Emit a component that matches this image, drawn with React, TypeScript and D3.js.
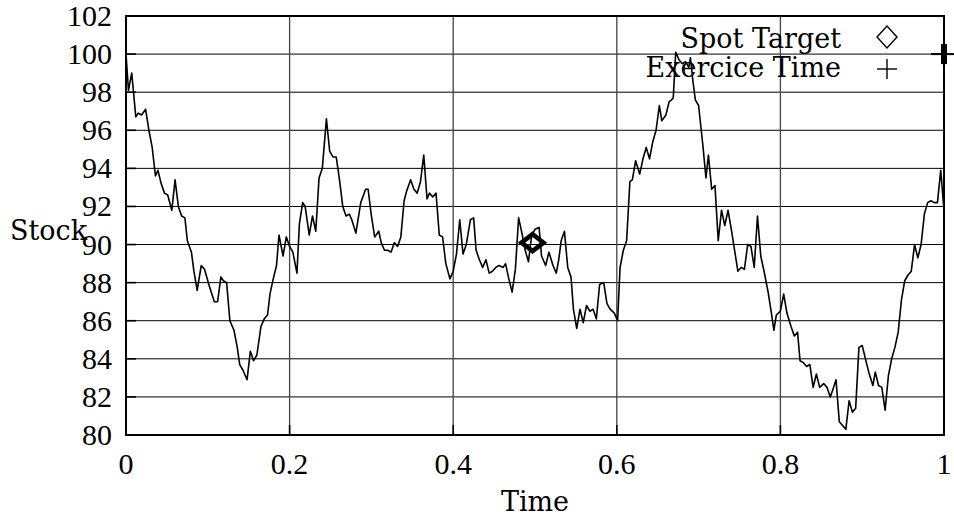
import React, { useEffect, useRef } from 'react';
import * as d3 from 'd3';

// simulated stock path
const times = [
  0.000, 0.003, 0.007, 0.012, 0.015, 0.019, 0.024, 0.028, 0.032, 0.036, 0.039, 0.043, 0.047, 0.051, 0.056,
  0.060, 0.064, 0.068, 0.072, 0.075, 0.080, 0.083, 0.087, 0.092, 0.096, 0.102, 0.108, 0.112, 0.116, 0.119,
  0.123, 0.127, 0.132, 0.136, 0.139, 0.143, 0.148, 0.152, 0.156, 0.160, 0.165, 0.169, 0.173, 0.176, 0.180,
  0.184, 0.187, 0.192, 0.196, 0.200, 0.204, 0.209, 0.212, 0.216, 0.219, 0.224, 0.228, 0.232, 0.236, 0.240,
  0.245, 0.249, 0.253, 0.257, 0.261, 0.265, 0.269, 0.273, 0.276, 0.281, 0.287, 0.293, 0.296, 0.300, 0.304,
  0.309, 0.312, 0.316, 0.320, 0.324, 0.328, 0.332, 0.336, 0.340, 0.343, 0.348, 0.352, 0.356, 0.360, 0.364,
  0.368, 0.371, 0.375, 0.379, 0.383, 0.387, 0.391, 0.396, 0.400, 0.404, 0.408, 0.412, 0.416, 0.421, 0.425,
  0.428, 0.432, 0.436, 0.440, 0.444, 0.448, 0.452, 0.456, 0.461, 0.464, 0.468, 0.472, 0.476, 0.480, 0.484,
  0.488, 0.492, 0.496, 0.500, 0.505, 0.508, 0.513, 0.517, 0.522, 0.526, 0.529, 0.532, 0.536, 0.540, 0.544,
  0.547, 0.551, 0.555, 0.559, 0.563, 0.567, 0.571, 0.575, 0.579, 0.584, 0.588, 0.592, 0.597, 0.601, 0.604,
  0.608, 0.612, 0.616, 0.619, 0.623, 0.628, 0.632, 0.636, 0.640, 0.644, 0.648, 0.652, 0.655, 0.660, 0.664,
  0.667, 0.669, 0.672, 0.676, 0.680, 0.684, 0.688, 0.690, 0.693, 0.696, 0.700, 0.705, 0.709, 0.712, 0.716,
  0.720, 0.724, 0.728, 0.732, 0.736, 0.740, 0.744, 0.748, 0.752, 0.756, 0.760, 0.764, 0.768, 0.772, 0.776,
  0.780, 0.785, 0.789, 0.792, 0.795, 0.800, 0.804, 0.808, 0.813, 0.817, 0.821, 0.824, 0.828, 0.832, 0.836,
  0.840, 0.844, 0.848, 0.853, 0.857, 0.861, 0.865, 0.868, 0.872, 0.876, 0.880, 0.884, 0.888, 0.892, 0.896,
  0.900, 0.904, 0.908, 0.913, 0.916, 0.920, 0.924, 0.928, 0.932, 0.936, 0.940, 0.944, 0.948, 0.952, 0.956,
  0.960, 0.964, 0.968, 0.972, 0.976, 0.980, 0.984, 0.988, 0.992, 0.996, 1.000,
];

const stock = [
  100.0, 98.1, 99.0, 96.7, 96.9, 96.8, 97.1, 96.0, 95.1, 93.6, 93.9, 93.2, 92.7, 92.6, 91.8,
  93.4, 92.0, 91.5, 91.4, 90.2, 89.6, 88.6, 87.6, 88.9, 88.7, 87.8, 87.0, 87.0, 88.3, 88.1,
  88.0, 86.0, 85.5, 84.6, 83.7, 83.4, 82.9, 84.4, 83.9, 84.2, 85.7, 86.1, 86.3, 87.4, 88.2,
  88.9, 90.5, 89.4, 90.4, 89.9, 89.6, 88.5, 91.1, 92.2, 92.0, 90.5, 91.5, 90.7, 93.5, 94.0,
  96.6, 94.9, 94.6, 94.6, 93.4, 92.0, 91.5, 91.6, 91.3, 90.6, 92.2, 92.9, 92.9, 91.5, 90.4,
  90.7, 90.1, 89.7, 89.7, 89.6, 90.1, 89.9, 90.4, 92.3, 92.8, 93.4, 92.9, 92.7, 93.3, 94.7,
  92.4, 92.7, 92.5, 92.7, 90.5, 90.4, 89.0, 88.2, 88.6, 89.5, 91.3, 89.5, 90.0, 91.3, 91.4,
  89.7, 89.2, 88.8, 89.2, 88.5, 88.6, 88.8, 88.9, 88.8, 89.0, 88.2, 87.5, 88.7, 91.4, 90.6,
  89.7, 89.1, 90.5, 90.8, 90.9, 89.4, 88.9, 89.6, 88.9, 88.5, 89.2, 90.2, 90.7, 88.8, 88.3,
  86.6, 85.6, 86.6, 85.9, 86.8, 86.5, 86.6, 86.1, 87.9, 88.0, 86.9, 86.6, 86.4, 86.0, 88.8,
  89.7, 90.2, 93.3, 93.4, 94.4, 93.7, 94.5, 95.1, 94.5, 95.4, 96.0, 97.3, 96.5, 96.8, 97.5,
  97.6, 97.7, 100.1, 99.7, 99.5, 99.6, 99.3, 99.8, 98.6, 97.6, 97.3, 95.3, 93.5, 94.7, 92.9,
  93.1, 90.2, 91.8, 91.0, 91.8, 90.8, 89.7, 88.6, 88.8, 88.7, 90.0, 89.9, 88.8, 91.5, 89.4,
  88.6, 87.5, 86.4, 85.5, 86.3, 86.5, 87.4, 86.4, 85.7, 85.2, 85.4, 83.9, 83.8, 83.6, 83.7,
  82.5, 83.2, 82.5, 82.7, 82.5, 82.0, 82.5, 82.9, 80.7, 80.5, 80.3, 81.8, 81.2, 81.4, 84.6,
  84.7, 84.0, 83.3, 82.6, 83.3, 82.6, 82.5, 81.3, 83.1, 84.0, 84.6, 85.4, 87.1, 88.1, 88.4,
  88.6, 90.0, 89.3, 90.0, 91.6, 92.2, 92.3, 92.2, 92.2, 93.9, 91.8,
];

const spotTarget = { t: 0.497, s: 90.1 };
const exerciceTime = { t: 1.0, s: 100.0 };

const xTicks = [0, 0.2, 0.4, 0.6, 0.8, 1];
const yTicks = [80, 82, 84, 86, 88, 90, 92, 94, 96, 98, 100, 102];

const W = 954;
const H = 521;
const numFont = '"Liberation Serif", serif';
const wordFont = '"DejaVu Serif", serif';

const App: React.FC = () => {
  const svgRef = useRef<SVGSVGElement>(null);

  useEffect(() => {
    if (!svgRef.current) return;
    const svg = d3.select(svgRef.current);
    svg.selectAll("*").remove();

    const left = 126, right = 944, top = 16, bottom = 435;
    const x = d3.scaleLinear().domain([0, 1]).range([left, right]);
    const y = d3.scaleLinear().domain([80, 102]).range([bottom, top]);

    // grid
    svg.append("g")
      .selectAll("line")
      .data(yTicks)
      .enter().append("line")
      .attr("x1", left).attr("x2", right)
      .attr("y1", d => y(d)).attr("y2", d => y(d))
      .attr("stroke", "#000")
      .attr("stroke-width", 1);

    svg.append("g")
      .selectAll("line")
      .data(xTicks)
      .enter().append("line")
      .attr("x1", d => x(d)).attr("x2", d => x(d))
      .attr("y1", top).attr("y2", bottom)
      .attr("stroke", "#444")
      .attr("stroke-width", 1.3);

    // inner tick marks
    svg.append("g")
      .selectAll("line")
      .data(yTicks)
      .enter().append("line")
      .attr("x1", left).attr("x2", left + 10)
      .attr("y1", d => y(d)).attr("y2", d => y(d))
      .attr("stroke", "#000")
      .attr("stroke-width", 1.6);

    svg.append("g")
      .selectAll("line")
      .data(xTicks)
      .enter().append("line")
      .attr("x1", d => x(d)).attr("x2", d => x(d))
      .attr("y1", bottom).attr("y2", bottom - 10)
      .attr("stroke", "#000")
      .attr("stroke-width", 1.6);

    // tick labels
    svg.append("g")
      .selectAll("text")
      .data(yTicks)
      .enter().append("text")
      .attr("x", 112)
      .attr("y", d => y(d) + 10)
      .attr("text-anchor", "end")
      .style("font-family", numFont)
      .style("font-size", "30px")
      .text(d => String(d));

    svg.append("g")
      .selectAll("text")
      .data(xTicks)
      .enter().append("text")
      .attr("x", d => x(d))
      .attr("y", 474)
      .attr("text-anchor", "middle")
      .style("font-family", numFont)
      .style("font-size", "30px")
      .text(d => String(d));

    // axis titles
    svg.append("text")
      .attr("x", (left + right) / 2)
      .attr("y", 511)
      .attr("text-anchor", "middle")
      .style("font-family", wordFont)
      .style("font-size", "27px")
      .text("Time");

    svg.append("text")
      .attr("x", 10)
      .attr("y", 240)
      .style("font-family", wordFont)
      .style("font-size", "27px")
      .text("Stock");

    // stock path
    const line = d3.line<number>()
      .x((d, i) => x(times[i]))
      .y(d => y(d));

    svg.append("path")
      .datum(stock)
      .attr("fill", "none")
      .attr("stroke", "#000")
      .attr("stroke-width", 1.6)
      .attr("stroke-linejoin", "round")
      .attr("d", line);

    // spot target marker (bold)
    const sx = x(spotTarget.t), sy = y(spotTarget.s);
    svg.append("path")
      .attr("d", `M${sx - 11},${sy} L${sx},${sy - 8.5} L${sx + 11},${sy} L${sx},${sy + 8.5} Z`)
      .attr("fill", "none")
      .attr("stroke", "#000")
      .attr("stroke-width", 4.5)
      .attr("stroke-linejoin", "miter");

    // exercice time marker (bold)
    const ex = x(exerciceTime.t), ey = y(exerciceTime.s);
    svg.append("line")
      .attr("x1", ex - 13).attr("x2", ex + 11)
      .attr("y1", ey).attr("y2", ey)
      .attr("stroke", "#000").attr("stroke-width", 2);
    svg.append("line")
      .attr("x1", ex).attr("x2", ex)
      .attr("y1", ey - 10).attr("y2", ey + 10)
      .attr("stroke", "#000").attr("stroke-width", 6);

    // legend
    const legend = svg.append("g");
    legend.append("text")
      .attr("x", 841).attr("y", 48)
      .attr("text-anchor", "end")
      .style("font-family", wordFont)
      .style("font-size", "27px")
      .text("Spot Target");
    legend.append("path")
      .attr("d", "M877,37 L887,26 L897,37 L887,48 Z")
      .attr("fill", "none")
      .attr("stroke", "#000")
      .attr("stroke-width", 1.4);

    legend.append("text")
      .attr("x", 841).attr("y", 77)
      .attr("text-anchor", "end")
      .style("font-family", wordFont)
      .style("font-size", "27px")
      .text("Exercice Time");
    legend.append("line")
      .attr("x1", 877).attr("x2", 897).attr("y1", 69).attr("y2", 69)
      .attr("stroke", "#000").attr("stroke-width", 1.4);
    legend.append("line")
      .attr("x1", 887).attr("x2", 887).attr("y1", 59).attr("y2", 79)
      .attr("stroke", "#000").attr("stroke-width", 1.4);

    // frame
    svg.append("rect")
      .attr("x", left).attr("y", top)
      .attr("width", right - left).attr("height", bottom - top)
      .attr("fill", "none")
      .attr("stroke", "#000")
      .attr("stroke-width", 2);
  }, []);

  return (
    <div style={{ position: "absolute", left: 0, top: 0, width: W, height: H, background: "#fff" }}>
      <svg ref={svgRef} width={W} height={H}></svg>
    </div>
  );
};

export default App;
